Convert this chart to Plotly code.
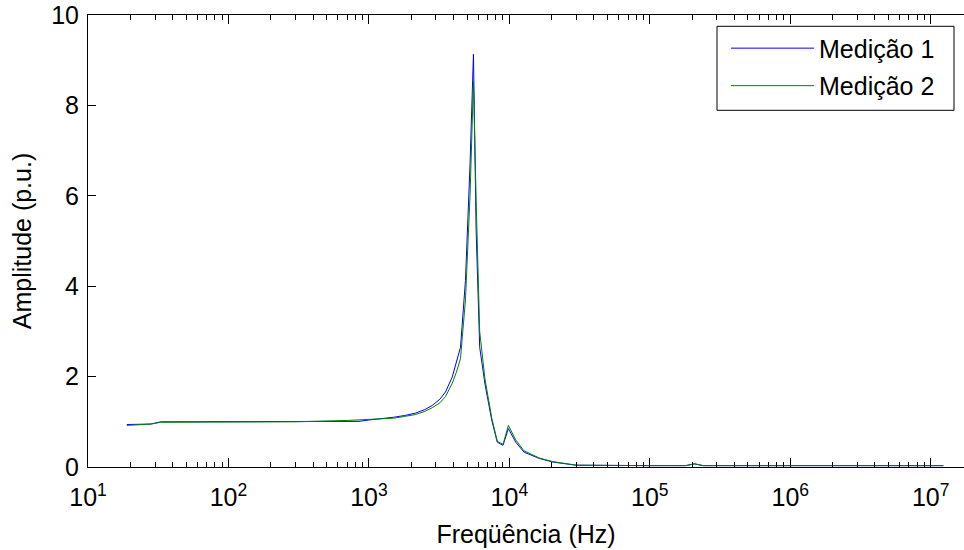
import plotly.graph_objects as go

freq_hz = [18.9, 28, 33, 100, 300, 700, 850, 1000, 1240, 1500, 1800, 2140, 2500, 2820,
           3200, 3510, 3920, 4200, 4490, 4870, 5250, 5550, 5800, 6150, 6700, 7500, 8200,
           9010, 9840, 11100, 12700, 16300, 20300, 26700, 30000, 100000, 180000, 208000,
           240000, 1000000, 12300000]

amp_med1 = [0.94, 0.95, 1.0, 1.0, 1.0, 1.0, 1.01, 1.04, 1.07, 1.1, 1.14, 1.19, 1.27, 1.36,
            1.5, 1.66, 1.99, 2.3, 2.65, 4.13, 6.71, 9.13, 5.24, 2.65, 1.84, 1.03, 0.55,
            0.48, 0.85, 0.55, 0.33, 0.19, 0.11, 0.06, 0.04, 0.03, 0.03, 0.07, 0.03, 0.03, 0.03]

amp_med2 = [0.92, 0.95, 0.99, 1.0, 1.0, 1.03, 1.04, 1.05, 1.06, 1.08, 1.12, 1.16, 1.23, 1.31,
            1.42, 1.56, 1.85, 2.1, 2.4, 3.7, 6.0, 8.53, 5.9, 3.0, 1.95, 1.08, 0.57,
            0.5, 0.92, 0.6, 0.36, 0.2, 0.12, 0.06, 0.04, 0.03, 0.03, 0.07, 0.03, 0.03, 0.03]

series_names = ["Medição 1", "Medição 2"]
x_tick_vals = [10, 100, 1000, 10000, 100000, 1000000, 10000000]
x_tick_text = ["10<sup>1</sup>", "10<sup>2</sup>", "10<sup>3</sup>", "10<sup>4</sup>",
               "10<sup>5</sup>", "10<sup>6</sup>", "10<sup>7</sup>"]
y_tick_vals = [0, 2, 4, 6, 8, 10]

minor_vals = [m * 10 ** e for e in range(1, 8) for m in range(2, 10)]

FONT = "Liberation Sans, Arial, sans-serif"
FS = 25

fig = go.Figure()
fig.add_trace(go.Scatter(x=freq_hz, y=amp_med1, mode="lines", name=series_names[0],
                         legendgroup="m1",
                         line=dict(color="#0000ff", width=1)))
fig.add_trace(go.Scatter(x=freq_hz, y=amp_med2, mode="lines", name=series_names[1],
                         legendgroup="m2",
                         line=dict(color="#008000", width=1)))

# legend frame (MATLAB-style box)
fig.add_shape(type="rect", xref="paper", yref="paper",
              x0=(717 - 88) / 876, x1=(954 - 88) / 876,
              y0=(466.7 - 110) / 452, y1=(466.7 - 26) / 452,
              line=dict(color="black", width=1), fillcolor="white", layer="above")

fig.update_layout(
    width=964, height=550,
    margin=dict(l=88, r=0, t=15, b=83),
    paper_bgcolor="white", plot_bgcolor="white",
    font=dict(family=FONT, size=FS, color="black"),
    showlegend=True,
    legend=dict(x=(726 - 88) / 876, y=0.977, xanchor="left", yanchor="top",
                bgcolor="rgba(0,0,0,0)", borderwidth=0,
                font=dict(family=FONT, size=FS, color="black"),
                itemwidth=83, tracegroupgap=2),
    xaxis=dict(type="log", range=[1, 7.237], tickmode="array",
               tickvals=x_tick_vals, ticktext=x_tick_text,
               ticks="inside", ticklen=9, tickcolor="black", tickwidth=1,
               ticklabelstandoff=8,
               showline=True, linecolor="black", linewidth=1, mirror="ticks",
               showgrid=False, zeroline=False,
               minor=dict(ticks="inside", ticklen=5, tickcolor="black",
                          tickmode="array", tickvals=minor_vals, showgrid=False),
               title=dict(text="Freqüência (Hz)", font=dict(size=FS), standoff=15),
               automargin=False),
    yaxis=dict(range=[0, 10], tickmode="array", tickvals=y_tick_vals,
               ticks="inside", ticklen=8, tickcolor="black", tickwidth=1,
               ticklabelstandoff=3,
               showline=True, linecolor="black", linewidth=1, mirror=False,
               showgrid=False, zeroline=False,
               title=dict(text="Amplitude (p.u.)", font=dict(size=FS), standoff=12),
               automargin=False),
)

fig.write_html("out.html", config={"displayModeBar": False},
               post_script="document.body.style.margin='0';"
                           "document.body.style.overflow='hidden';")
